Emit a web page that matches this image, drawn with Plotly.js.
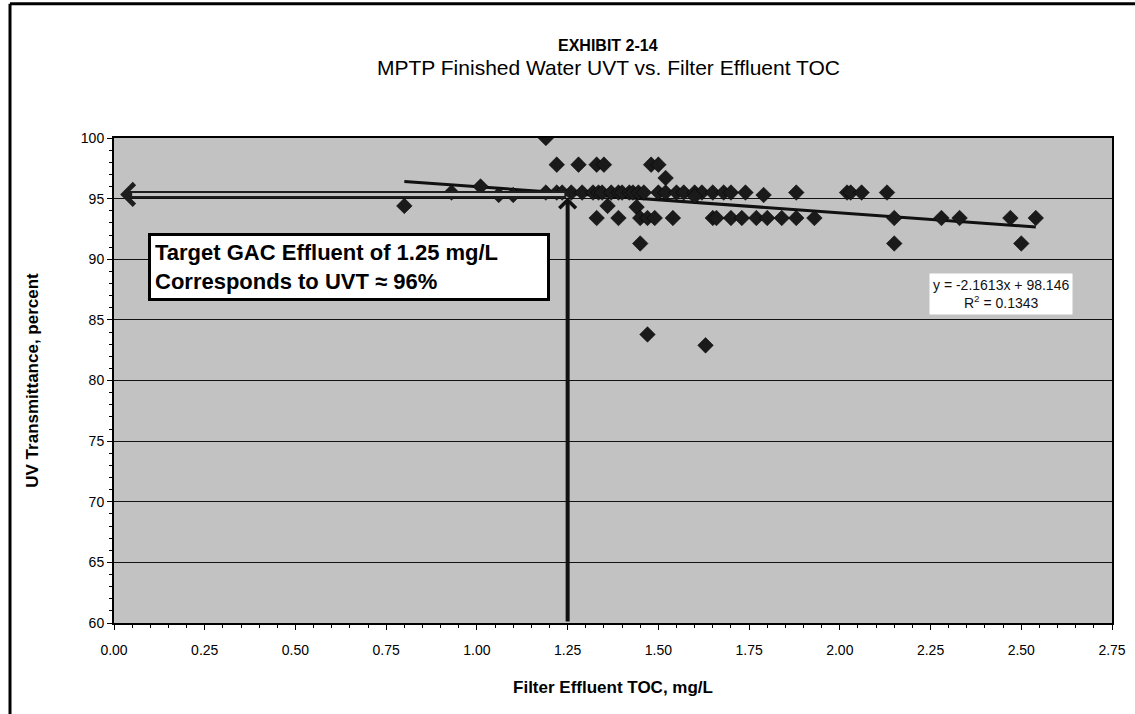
<!DOCTYPE html>
<html>
<head>
<meta charset="utf-8">
<script src="https://cdn.plot.ly/plotly-3.0.1.min.js"></script>
<style>
html,body{margin:0;padding:0;background:#fff;}
#chart{width:1135px;height:714px;}
</style>
</head>
<body>
<div id="chart"></div>
<script>
// Filter effluent TOC (mg/L) and finished water UVT (%)
var tocX = [
  1.19,
  1.22, 1.28, 1.33, 1.35, 1.48, 1.50,
  1.52,
  1.01,
  0.93, 1.19, 1.22, 1.235, 1.26, 1.29, 1.32, 1.335, 1.345, 1.37, 1.39, 1.40, 1.42, 1.43, 1.445, 1.46, 1.50, 1.52, 1.55, 1.57, 1.60, 1.62, 1.65, 1.68, 1.70, 1.74, 1.88, 2.02, 2.03, 2.06, 2.13,
  1.06, 1.10, 1.79,
  1.60,
  0.80, 1.36, 1.44,
  1.33, 1.39, 1.45, 1.47, 1.49, 1.54, 1.65, 1.66, 1.70, 1.73, 1.77, 1.80, 1.84, 1.88, 1.93, 2.15, 2.28, 2.33, 2.47, 2.54,
  1.45, 2.15, 2.50,
  1.47, 1.63
];
var uvtY = [
  100,
  97.8, 97.8, 97.8, 97.8, 97.8, 97.8,
  96.7,
  96.0,
  95.5, 95.5, 95.5, 95.5, 95.5, 95.5, 95.5, 95.5, 95.5, 95.5, 95.5, 95.5, 95.5, 95.5, 95.5, 95.5, 95.5, 95.5, 95.5, 95.5, 95.5, 95.5, 95.5, 95.5, 95.5, 95.5, 95.5, 95.5, 95.5, 95.5, 95.5,
  95.3, 95.3, 95.3,
  95.2,
  94.4, 94.4, 94.3,
  93.4, 93.4, 93.4, 93.4, 93.4, 93.4, 93.4, 93.4, 93.4, 93.4, 93.4, 93.4, 93.4, 93.4, 93.4, 93.4, 93.4, 93.4, 93.4, 93.4,
  91.3, 91.3, 91.3,
  83.8, 82.9
];
// Linear trendline endpoints (y = -2.1613x + 98.146)
var trendX = [0.80, 2.54];
var trendY = [96.42, 92.66];
// Axis ticks
var xTicks = [0, 0.25, 0.5, 0.75, 1.0, 1.25, 1.5, 1.75, 2.0, 2.25, 2.5, 2.75];
var xTickLabels = ['0.00','0.25','0.50','0.75','1.00','1.25','1.50','1.75','2.00','2.25','2.50','2.75'];
var yTicks = [60, 65, 70, 75, 80, 85, 90, 95, 100];
// Target guide arrows
var targetToc = 1.25;
var targetUvt = 95.35;
var arrowTipToc = 0.017;
var arrowTipUvt = 95.1;

var arial = '"Liberation Sans", Arial, sans-serif';
var bg = '#c2c2c2';

var traces = [
  {
    x: trendX, y: trendY, type: 'scatter', mode: 'lines',
    line: {color: '#111', width: 3}, hoverinfo: 'skip', showlegend: false
  },
  {
    x: tocX, y: uvtY, type: 'scatter', mode: 'markers',
    marker: {symbol: 'diamond', size: 12, color: '#1a1a1a', line: {color: '#000', width: 0.5}},
    showlegend: false
  }
];

var layout = {
  width: 1135, height: 714,
  margin: {l: 114, r: 23, t: 138, b: 91},
  paper_bgcolor: '#ffffff',
  plot_bgcolor: bg,
  font: {family: arial, color: '#000', size: 14},
  showlegend: false,
  xaxis: {
    range: [0, 2.75], tickvals: xTicks, ticktext: xTickLabels,
    ticks: 'outside', ticklen: 5, tickwidth: 1, tickcolor: '#000',
    minor: {dtick: 0.05, ticks: 'outside', ticklen: 3, tickcolor: '#000', showgrid: false},
    showgrid: false, zeroline: false,
    showline: true, linecolor: '#000', linewidth: 2, mirror: true,
    tickfont: {family: arial, size: 14, color: '#000'},
    ticklabelstandoff: 8,
    title: {text: '<b>Filter Effluent TOC, mg/L</b>', font: {family: arial, size: 17, color: '#000'}, standoff: 24}
  },
  yaxis: {
    range: [60, 100], tickvals: yTicks,
    ticks: 'outside', ticklen: 5, tickwidth: 1, tickcolor: '#000',
    minor: {dtick: 1, ticks: 'outside', ticklen: 3, tickcolor: '#000', showgrid: false},
    showgrid: true, gridcolor: '#111', gridwidth: 1, zeroline: false,
    showline: true, linecolor: '#000', linewidth: 2, mirror: true,
    tickfont: {family: arial, size: 14, color: '#000'},
    title: {text: '<b>UV Transmittance, percent</b>', font: {family: arial, size: 17, color: '#000'}, standoff: 38}
  },
  annotations: [
    {
      xref: 'paper', yref: 'paper', x: 0.495, y: 1.19, xanchor: 'center', yanchor: 'middle',
      text: '<b>EXHIBIT 2-14</b>', showarrow: false,
      font: {family: arial, size: 16, color: '#000'}
    },
    {
      xref: 'paper', yref: 'paper', x: 0.495, y: 1.145, xanchor: 'center', yanchor: 'middle',
      text: 'MPTP Finished Water UVT vs. Filter Effluent TOC', showarrow: false,
      font: {family: arial, size: 21, color: '#000'}
    },
    {
      // horizontal block arrow to the UVT axis (dark outline)
      x: arrowTipToc, y: targetUvt, xref: 'x', yref: 'y',
      ax: targetToc, ay: targetUvt, axref: 'x', ayref: 'y',
      text: '', showarrow: true, arrowhead: 4, arrowsize: 0.6, arrowwidth: 7, arrowcolor: '#1e1e1e'
    },
    {
      // hollow centre of the horizontal arrow
      x: 0.05, y: targetUvt, xref: 'x', yref: 'y',
      ax: targetToc - 0.005, ay: targetUvt, axref: 'x', ayref: 'y',
      text: '', showarrow: true, arrowhead: 0, arrowwidth: 3, arrowcolor: bg
    },
    {
      // vertical arrow from the TOC axis
      x: targetToc, y: arrowTipUvt, xref: 'x', yref: 'y',
      ax: targetToc, ay: 60, axref: 'x', ayref: 'y',
      text: '', showarrow: true, arrowhead: 4, arrowsize: 0.8, arrowwidth: 4, arrowcolor: '#111'
    },
    {
      xref: 'x', yref: 'y', x: 0.094, y: 89.4, xanchor: 'left', yanchor: 'middle',
      text: '<b>Target GAC Effluent of 1.25 mg/L<br>Corresponds to UVT \u2248 96%</b>',
      align: 'left', showarrow: false, width: 388, height: 54,
      font: {family: arial, size: 22, color: '#000'},
      bgcolor: '#ffffff', bordercolor: '#000', borderwidth: 3, borderpad: 4
    },
    {
      xref: 'x', yref: 'y', x: 2.444, y: 87.15, xanchor: 'center', yanchor: 'middle',
      text: 'y = -2.1613x + 98.146<br>R<sup>2</sup> = 0.1343',
      align: 'center', showarrow: false,
      font: {family: arial, size: 14, color: '#111'},
      bgcolor: '#ffffff', borderpad: 3
    }
  ],
  shapes: [
    {type: 'line', xref: 'paper', yref: 'paper', x0: -0.1042, x1: -0.1042, y0: 1.277, y1: -0.2, line: {color: '#000', width: 3}},
    {type: 'line', xref: 'paper', yref: 'paper', x0: -0.1042, x1: 1.03, y0: 1.277, y1: 1.277, line: {color: '#000', width: 3}}
  ]
};

Plotly.newPlot('chart', traces, layout, {displayModeBar: false, staticPlot: true});
</script>
</body>
</html>
